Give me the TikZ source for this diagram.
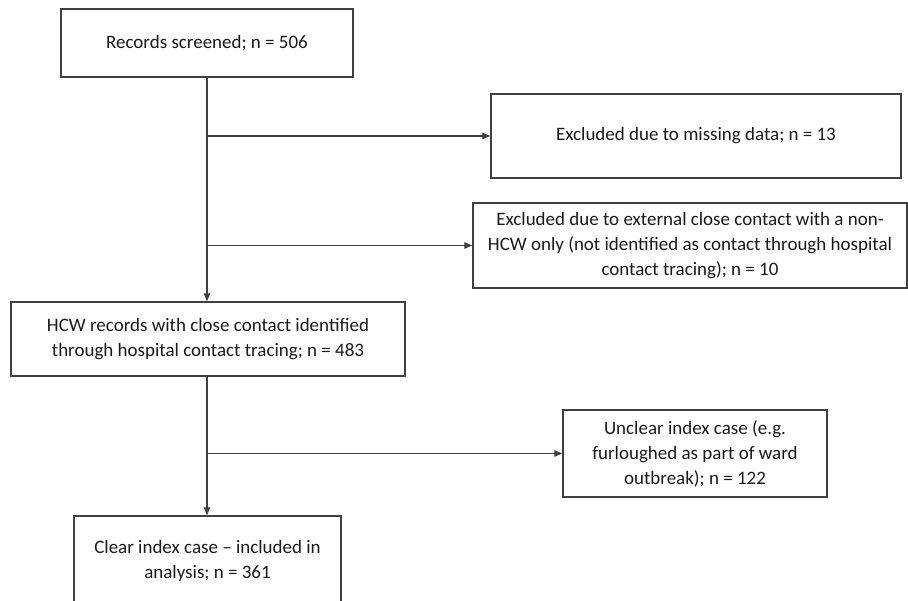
\documentclass[tikz,border=0pt]{standalone}
\usepackage{fontspec}
\setmainfont{Carlito}
\usepackage{tikz}
\usetikzlibrary{arrows.meta}

\begin{document}
\begin{tikzpicture}[
        box/.style={draw=black!75, line width=0.8pt, rectangle, align=center,
            font=\fontsize{10.8}{14.2}\selectfont, text=black!90},
        arr/.style={draw=black!75, line width=0.6pt, -{Triangle[length=1.6mm,width=1.3mm]}}
    ]
        \clip (0,0) rectangle (18.16,-12.02);
        % boxes
        \node[box, minimum width=5.84cm, minimum height=1.36cm] (screened) at (4.14,-0.86)
            {Records screened; n = 506};
        \node[box, minimum width=8.2cm, minimum height=1.68cm] (missing) at (13.92,-2.72)
            {Excluded due to missing data; n = 13};
        \node[box, minimum width=8.68cm, minimum height=1.7cm] (external) at (13.8,-4.91)
            {Excluded due to external close contact with a non-\\
             HCW only (not identified as contact through hospital\\
             contact tracing); n = 10};
        \node[box, minimum width=7.88cm, minimum height=1.48cm] (hcw) at (4.16,-6.78)
            {HCW records with close contact identified\\
             through hospital contact tracing; n = 483};
        \node[box, minimum width=5.28cm, minimum height=1.74cm] (unclear) at (13.9,-9.07)
            {Unclear index case (e.g.\\
             furloughed as part of ward\\
             outbreak); n = 122};
        \node[box, minimum width=5.34cm, minimum height=1.8cm] (clear) at (4.15,-11.22)
            {Clear index case -- included in\\
             analysis; n = 361};
        % branch points
        \coordinate (b1) at (screened.south |- missing.west);
        \coordinate (b2) at (screened.south |- external.west);
        \coordinate (b3) at (screened.south |- unclear.west);
        % connectors
        \draw[arr] (screened.south) -- (screened.south |- hcw.north);
        \draw[arr] (b1) -- (missing.west);
        \draw[arr] (b2) -- (external.west);
        \draw[arr] (screened.south |- hcw.south) -- (screened.south |- clear.north);
        \draw[arr] (b3) -- (unclear.west);
\end{tikzpicture}
\end{document}
